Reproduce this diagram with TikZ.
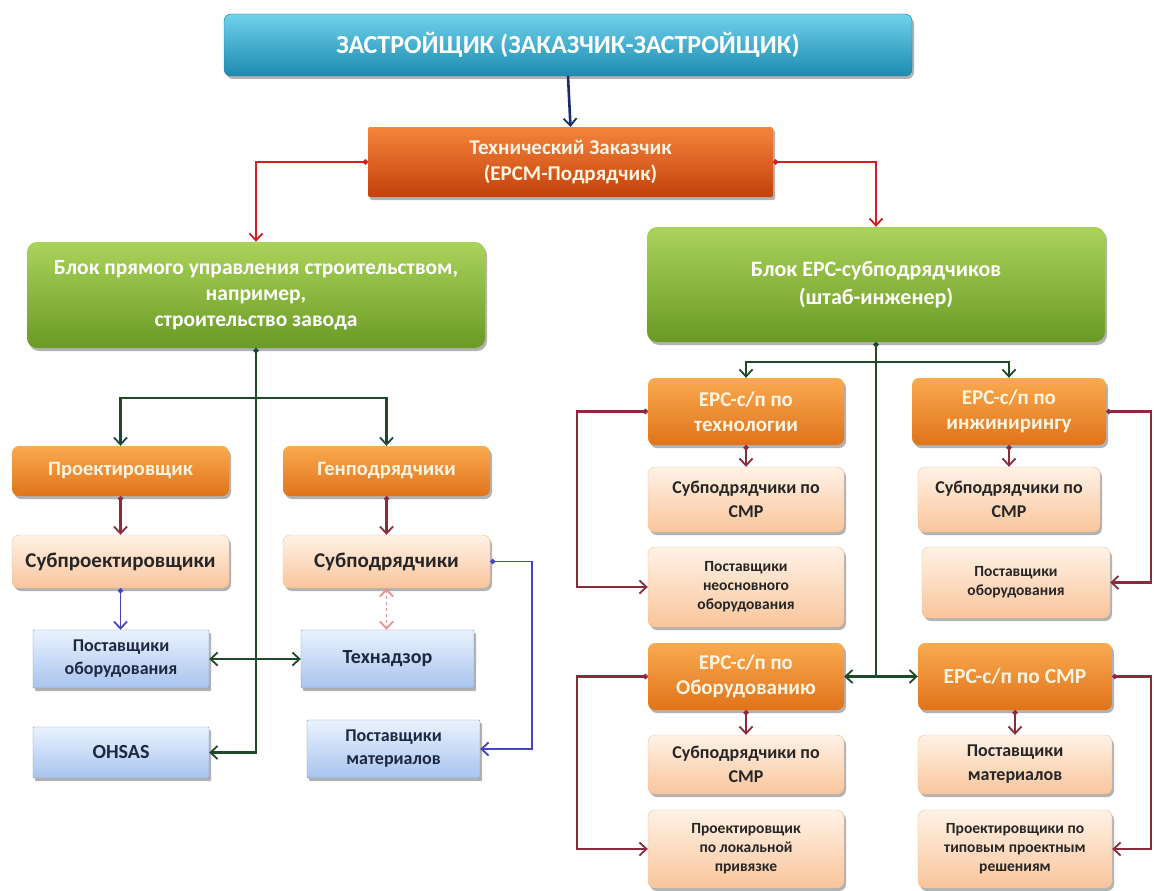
\documentclass[tikz,border=0pt]{standalone}
\usepackage{fontspec}
\setmainfont{Carlito}
\usetikzlibrary{arrows.meta,shadows,shadings}

\definecolor{cyanT}{HTML}{6FD2EC}
\definecolor{cyanB}{HTML}{1C8AB0}
\definecolor{cyanD}{HTML}{1A7596}
\definecolor{techT}{HTML}{F5853A}
\definecolor{techB}{HTML}{C2400C}
\definecolor{greenT}{HTML}{AAD35A}
\definecolor{greenB}{HTML}{6A9A24}
\definecolor{orT}{HTML}{FAAA50}
\definecolor{orB}{HTML}{E0731A}
\definecolor{peachT}{HTML}{FFF2E6}
\definecolor{peachB}{HTML}{F9C59C}
\definecolor{peachD}{HTML}{F0BE96}
\definecolor{blueT}{HTML}{EAF2FE}
\definecolor{blueB}{HTML}{A8C4EE}
\definecolor{blueD}{HTML}{8496B4}
\definecolor{lightTxt}{HTML}{FFF4E2}
\definecolor{darkTxt}{HTML}{262626}
\definecolor{navyTxt}{HTML}{1E2840}
\definecolor{navyLn}{HTML}{1C2A68}
\definecolor{redLn}{HTML}{D61E1E}
\definecolor{grLn}{HTML}{1E4A2A}
\definecolor{maLn}{HTML}{8A2C3C}
\definecolor{blLn}{HTML}{4444C4}
\definecolor{pkLn}{HTML}{E89090}

\newcommand\fsz[2]{\fontsize{#1}{#2}\selectfont\bfseries}
% box from corner (x1,y1) to (x2,y2); #2 = style, #8 = font size / baseline skip
\newcommand\placebox[8]{\node[#2,font={\fsz#8},minimum width={(#5-#3)*1pt},minimum height={(#6-#4)*1pt}] (#1) at ({(#3+#5)/2},{(#4+#6)/2}) {#7};}

\begin{document}
\begin{tikzpicture}[x=1pt,y=-1pt,
  box/.style={rounded corners=7pt, align=center, inner sep=0pt,
    drop shadow={shadow xshift=2pt,shadow yshift=-3pt,opacity=.3,fill=black}},
  titlebox/.style={box, draw=cyanD, top color=cyanT, bottom color=cyanB, text=white},
  techbox/.style={box, rounded corners=2pt, top color=techT, bottom color=techB, text=lightTxt},
  grbox/.style={box, rounded corners=10pt, top color=greenT, bottom color=greenB, text=white},
  orbox/.style={box, top color=orT, bottom color=orB, text=lightTxt},
  pcbox/.style={box, draw=peachD, top color=peachT, bottom color=peachB, text=darkTxt},
  blbox/.style={box, rounded corners=1pt, draw=blueD, top color=blueT, bottom color=blueB, text=navyTxt},
  tipr/.tip={Straight Barb[length=7pt,width=13pt,line width=1.8pt]},
  dot/.tip={Circle[length=5pt]},
  conn/.style={line width=2.6pt},
  navyline/.style={conn, draw=navyLn, -tipr},
  redline/.style={conn, draw=redLn, dot-tipr},
  grline/.style={conn, draw=grLn, -tipr},
  maline/.style={line width=2.2pt, draw=maLn, dot-tipr},
  blline/.style={line width=1.8pt, draw=blLn, dot-tipr},
]
\fill[white] (0,0) rectangle (1154,891);
\useasboundingbox (0,0) rectangle (1154,891);

% ---- upper levels
\placebox{top}{titlebox}{224}{14}{912}{76}{ЗАСТРОЙЩИК (ЗАКАЗЧИК-ЗАСТРОЙЩИК)}{{26}{30}}
\placebox{tech}{techbox}{368}{127}{773}{197}{Технический Заказчик\\(EPCM-Подрядчик)}{{21}{26}}
\placebox{gl}{grbox}{27}{242}{485}{348}{Блок прямого управления строительством,\\например,\\строительство завода}{{21.5}{26}}
\placebox{gr}{grbox}{647}{227}{1105}{342}{Блок EPC-субподрядчиков\\(штаб-инженер)}{{22}{28}}

% ---- left block
\placebox{proj}{orbox}{12}{446}{229}{496}{Проектировщик}{{20.5}{24}}
\placebox{genp}{orbox}{283}{446}{490}{496}{Генподрядчики}{{20.5}{24}}
\placebox{subproj}{pcbox}{12}{535}{229}{588}{Субпроектировщики}{{21}{25}}
\placebox{subp}{pcbox}{283}{535}{490}{588}{Субподрядчики}{{21}{25}}
\placebox{pobor}{blbox}{33}{630}{209}{688}{Поставщики\\оборудования}{{18}{23}}
\placebox{tnadz}{blbox}{301}{630}{474}{688}{Технадзор}{{20}{24}}
\placebox{ohsas}{blbox}{33}{727}{209}{778}{OHSAS}{{20}{24}}
\placebox{pmatl}{blbox}{307}{720}{480}{778}{Поставщики\\материалов}{{18}{23}}

% ---- right block
\placebox{etech}{orbox}{648}{378}{844}{445}{EPC-с/п по\\технологии}{{21}{25}}
\placebox{eeng}{orbox}{912}{378}{1106}{445}{EPC-с/п по\\инжинирингу}{{21}{25}}
\placebox{smr1}{pcbox}{648}{467}{844}{532}{Субподрядчики по\\СМР}{{18}{24}}
\placebox{smr2}{pcbox}{918}{467}{1100}{532}{Субподрядчики по\\СМР}{{18}{24}}
\placebox{neos}{pcbox}{648}{547}{844}{627}{Поставщики\\неосновного\\оборудования}{{15.5}{19}}
\placebox{pobr}{pcbox}{922}{547}{1110}{618}{Поставщики\\оборудования}{{15.5}{19}}
\placebox{eobor}{orbox}{648}{643}{844}{710}{EPC-с/п по\\Оборудованию}{{21}{25}}
\placebox{esmr}{orbox}{918}{643}{1112}{710}{EPC-с/п по СМР}{{21.5}{25}}
\placebox{smr3}{pcbox}{648}{735}{844}{794}{Субподрядчики по\\СМР}{{18}{24}}
\placebox{pmatr}{pcbox}{918}{735}{1112}{794}{Поставщики\\материалов}{{18}{24}}
\placebox{plok}{pcbox}{648}{810}{844}{888}{Проектировщик\\по локальной\\привязке}{{15.5}{19}}
\placebox{ptip}{pcbox}{918}{810}{1112}{888}{Проектировщики по\\типовым проектным\\решениям}{{15.5}{19}}

% ---- connectors: top
\draw[navyline] (top.south) -- (tech.north);
\draw[redline] (tech.west) -| (gl.north);
\draw[redline] (tech.east) -| (gr.north);

% ---- connectors: left block
\coordinate (jl) at (gl.south |- 0,398);
\draw[grline,dot-tipr] (gl.south) |- (ohsas.east);
\draw[grline] (jl) -| (proj.north);
\draw[grline] (jl) -| (genp.north);
\draw[grline,tipr-tipr] (pobor.east) -- (tnadz.west);
\draw[maline] (proj.south) -- (subproj.north);
\draw[maline] (genp.south) -- (subp.north);
\draw[blline] (subproj.south) -- (subproj.south |- pobor.north);
\draw[line width=1.6pt, draw=pkLn, dashed, tipr-tipr] (subp.south) -- (subp.south |- tnadz.north);
\draw[blline] (subp.east) -- ++(42,0) |- (pmatl.east);

% ---- connectors: right block
\coordinate (jr) at (gr.south |- 0,362);
\coordinate (jr2) at (gr.south |- eobor.east);
\draw[grline,dot-] (gr.south) -- (jr2);
\draw[grline] (jr) -| (etech.north);
\draw[grline] (jr) -| (eeng.north);
\draw[grline] (jr2) -- (eobor.east);
\draw[grline] (jr2) -- (esmr.west);

\draw[maline] (etech.south) -- (smr1.north);
\draw[maline] (eeng.south) -- (eeng.south |- smr2.north);
\draw[maline] (eobor.south) -- (smr3.north);
\draw[maline] (esmr.south) -- (pmatr.north);

\coordinate (ll) at (577,0);
\coordinate (rr) at (1151,0);
\draw[maline] (etech.west) -| (ll |- neos.west) -- (neos.west);
\draw[maline] (eobor.west) -| (ll |- plok.west) -- (plok.west);
\draw[maline] (eeng.east) -| (rr |- pobr.east) -- (pobr.east);
\draw[maline] (esmr.east) -| (rr |- ptip.east) -- (ptip.east);
\end{tikzpicture}
\end{document}
